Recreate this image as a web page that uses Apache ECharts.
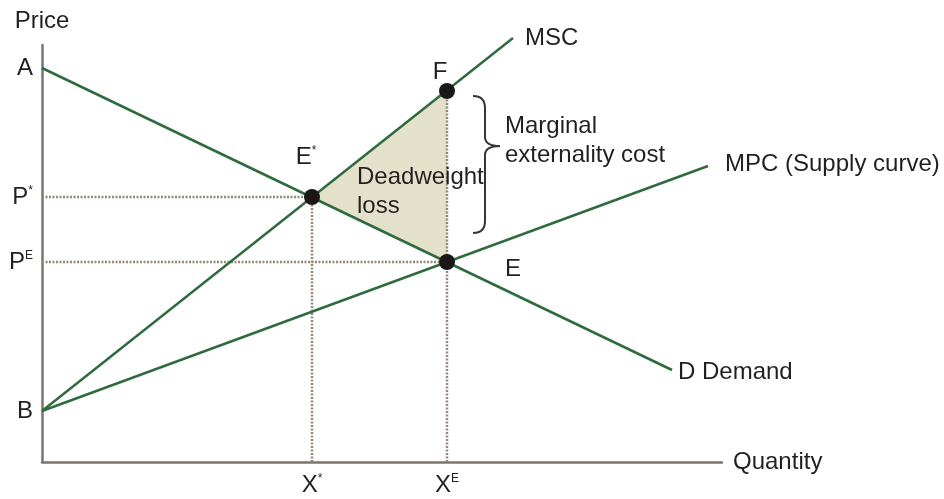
<!DOCTYPE html>
<html><head><meta charset="utf-8">
<script src="https://cdn.jsdelivr.net/npm/echarts@6/dist/echarts.min.js"></script>
<style>html,body{margin:0;padding:0;background:#fff}#c{width:944px;height:499px}</style>
</head><body><div id="c"></div>
<script>
// ---- data (chart units) ----
const demandLine = [[0, 394], [630, 92]];
const mscLine = [[0, 51], [471, 424]];
const mpcLine = [[0, 51], [666, 296]];
const eqPoints = [[270, 265], [405, 200], [405, 371]];   // E*, E, F
const eqNames = [['E', '*'], ['E', ''], ['F', '']];
const deadweightTriangle = [[270, 265], [405, 371], [405, 200]];
const xTickValues = [270, 405];
const xTickLabels = [['X', '*'], ['X', 'E']];
const yTickValues = [394, 265, 200, 51];
const yTickLabels = [['A', ''], ['P', '*'], ['P', 'E'], ['B', '']];
const curveNames = ['MSC', 'MPC (Supply curve)', 'D Demand'];

// ---- styles ----
const FONT = 'Liberation Sans, Arial, sans-serif';
const TXT = '#231f20';
const GREEN = '#2f6b3e';
const AXIS = '#7d746c';
const DOT = '#958a78';
const FS = 24;
const rich = {
  m: { fontSize: FS, fontFamily: FONT, color: TXT },
  s: { fontSize: 12, fontFamily: FONT, color: TXT, verticalAlign: 'top', padding: [0, 0, 13, 0] }
};
function sup(pair) { return pair[1] ? '{m|' + pair[0] + '}{s|' + pair[1] + '}' : '{m|' + pair[0] + '}'; }

function curve(data, clip) {
  return {
    type: 'line', data: data, symbol: 'none', clip: clip, z: 3, silent: true,
    lineStyle: { color: GREEN, width: 2.5 }
  };
}
function dotted(a, b) {
  return { type: 'line', data: [a, b], symbol: 'none', z: 2, silent: true,
    lineStyle: { color: DOT, width: 2.5, type: [2, 1.5] } };
}
const [Es, E, F] = eqPoints;
const eqOffsets = [[-6, -40], [66, 7], [-7, -19]];
const curveEnds = [mscLine, mpcLine, demandLine].map(l => l[l.length - 1]);
const curveLabelPos = [[12, 0], [17, -2], [6, 2]];
const textStyle = { fontSize: FS, fontFamily: FONT, color: TXT, opacity: 1 };

const option = {
  animation: false,
  grid: { left: 42, top: 45, width: 680, height: 417 },
  xAxis: {
    type: 'value', min: 0, max: 680,
    axisLine: { show: true, onZero: false, lineStyle: { color: AXIS, width: 2.5 } },
    axisTick: { show: false }, splitLine: { show: false },
    axisLabel: { customValues: xTickValues, margin: 11, rich: rich,
      formatter: v => sup(xTickLabels[xTickValues.indexOf(v)]) },
    name: 'Quantity', nameLocation: 'end', nameGap: 11,
    nameTextStyle: { fontSize: FS, fontFamily: FONT, color: TXT }
  },
  yAxis: {
    type: 'value', min: 0, max: 417,
    axisLine: { show: true, onZero: false, lineStyle: { color: AXIS, width: 2.5 } },
    axisTick: { show: false }, splitLine: { show: false },
    axisLabel: { customValues: yTickValues, margin: 9, rich: rich,
      formatter: v => sup(yTickLabels[yTickValues.indexOf(v)]) },
    name: 'Price', nameLocation: 'end', nameGap: 12,
    nameTextStyle: { fontSize: FS, fontFamily: FONT, color: TXT }
  },
  series: [
    { type: 'custom', z: 1, silent: true, data: [deadweightTriangle[0]],
      renderItem: (params, api) => ({
        type: 'polygon', shape: { points: deadweightTriangle.map(p => api.coord(p)) },
        style: { fill: '#e4e1cb' }
      }) },
    dotted([0, Es[1]], Es), dotted([Es[0], 0], Es),
    dotted([0, E[1]], E), dotted([E[0], 0], F),
    curve(mscLine, false),
    curve(mpcLine, false),
    curve(demandLine, false),
    // curve-end labels
    { type: 'scatter', z: 6, silent: true, symbolSize: 0, clip: false,
      itemStyle: { opacity: 1 },
      data: curveEnds.map((p, i) => ({ value: p, label: Object.assign({ show: true, position: 'right',
        distance: curveLabelPos[i][0], offset: [0, curveLabelPos[i][1]], formatter: curveNames[i] }, textStyle) })) },
    { type: 'scatter', z: 5, silent: true, symbolSize: 16,
      itemStyle: { color: '#1a1716', opacity: 1 },
      data: eqPoints.map((p, i) => ({ value: p, label: { show: true, position: 'inside', opacity: 1,
        offset: eqOffsets[i], rich: rich, formatter: sup(eqNames[i]) } })) },
    // brace for marginal externality cost (between F and E)
    { type: 'custom', z: 4, silent: true, data: [F],
      renderItem: (params, api) => {
        const pf = api.coord(F), pe = api.coord(E);
        const a = pf[0] + 26, b = pf[0] + 38, c = pf[0] + 53;
        const t = pf[1] + 5, m = pf[1] + 55, bt = pe[1] - 29;
        const d = `M${a} ${t} Q${b} ${t} ${b} ${t + 12} L${b} ${m - 9} Q${b} ${m} ${c} ${m} Q${b} ${m} ${b} ${m + 9} L${b} ${bt - 12} Q${b} ${bt} ${a} ${bt}`;
        return { type: 'path', shape: { pathData: d }, style: { stroke: '#3a3432', lineWidth: 2, fill: null } };
      } },
    // text annotations
    { type: 'scatter', z: 6, silent: true, symbolSize: 0, itemStyle: { opacity: 1 },
      data: [
        { value: [315, 270], label: Object.assign({ show: true, position: 'right', distance: 0, formatter: 'Deadweight\nloss',
          lineHeight: 29, align: 'left' }, textStyle) },
        { value: [463, 321], label: Object.assign({ show: true, position: 'right', distance: 0, formatter: 'Marginal\nexternality cost',
          lineHeight: 29, align: 'left' }, textStyle) }
      ] }
  ]
};
const chart = echarts.init(document.getElementById('c'), null, { renderer: 'canvas' });
chart.setOption(option);
</script></body></html>
